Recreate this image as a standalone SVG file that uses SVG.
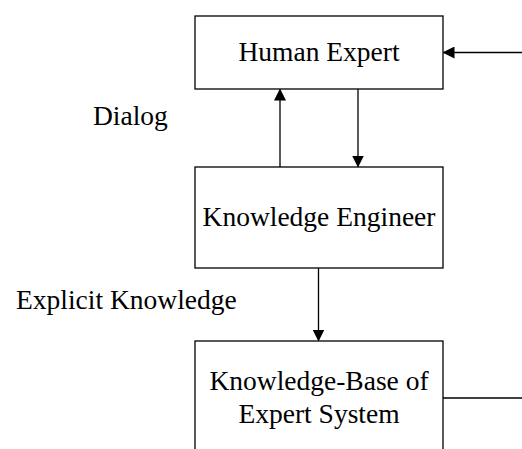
<svg xmlns="http://www.w3.org/2000/svg" width="522" height="449" viewBox="0 0 522 449">
<defs>
<style>
.box{fill:#fff;stroke:#000;stroke-width:1.3}
.t{font-family:"Liberation Serif","Times New Roman",serif;font-size:27.5px;fill:#000}
.c{text-anchor:middle}
.ln{stroke:#000;stroke-width:1.3;fill:none}
</style>
<marker id="ah" markerWidth="12" markerHeight="12" refX="11" refY="6" orient="auto" markerUnits="userSpaceOnUse">
<path d="M0,0 L12,6 L0,12 Z" fill="#000"/>
</marker>
</defs>
<rect width="522" height="449" fill="#fff"/>
<g id="connectors">
<line class="ln" x1="522" y1="52.5" x2="443.5" y2="52.5" marker-end="url(#ah)"/>
<line class="ln" x1="280" y1="167" x2="280" y2="89.5" marker-end="url(#ah)"/>
<line class="ln" x1="358" y1="89" x2="358" y2="166.5" marker-end="url(#ah)"/>
<line class="ln" x1="318.5" y1="268" x2="318.5" y2="340.5" marker-end="url(#ah)"/>
<line class="ln" x1="443" y1="398" x2="522" y2="398"/>
</g>
<g id="human-expert">
<rect class="box" x="195" y="16" width="248" height="73"/>
<text class="t c" x="319" y="61">Human Expert</text>
</g>
<g id="knowledge-engineer">
<rect class="box" x="195" y="167" width="248" height="101"/>
<text class="t c" x="319" y="226">Knowledge Engineer</text>
</g>
<g id="knowledge-base">
<rect class="box" x="195" y="341" width="248" height="130"/>
<text class="t c" x="319" y="390">Knowledge-Base of</text>
<text class="t c" x="319" y="423">Expert System</text>
</g>
<g id="labels">
<text class="t" x="93" y="125">Dialog</text>
<text class="t" x="16" y="309">Explicit Knowledge</text>
</g>
</svg>
